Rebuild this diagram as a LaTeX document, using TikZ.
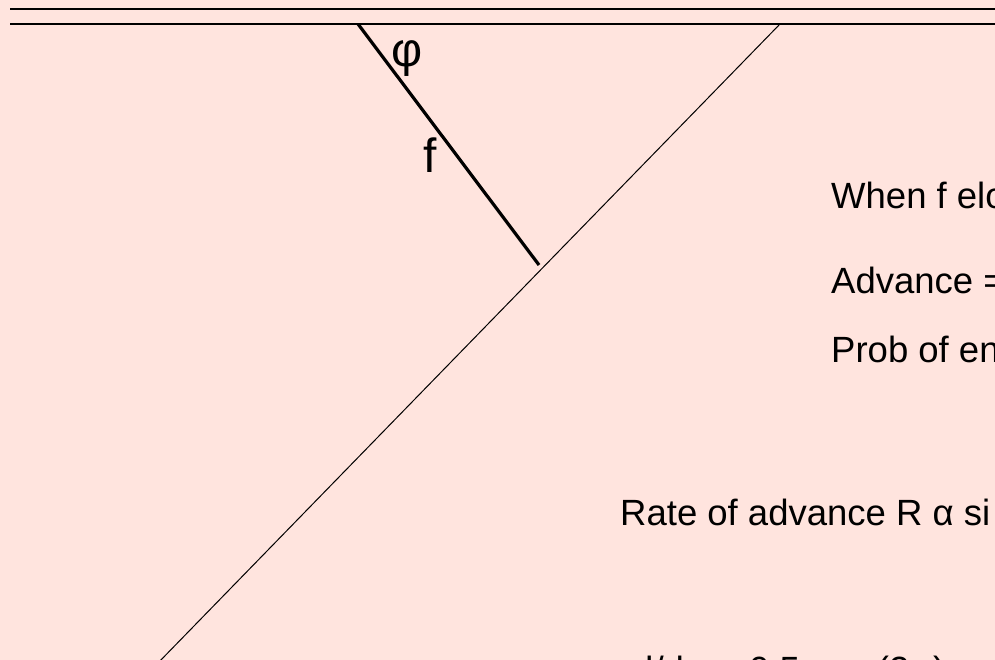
\documentclass[tikz,border=0pt]{standalone}
\usepackage{fontspec}
\setmainfont{Liberation Sans}
\definecolor{bgpink}{HTML}{FFE4DE}
\begin{document}
\begin{tikzpicture}[x=1pt,y=-1pt,
  txt/.style={inner sep=0pt, anchor=base west, font=\fontsize{36.5}{44}\selectfont},
  lbl/.style={inner sep=0pt, anchor=base, font=\fontsize{48}{56}\selectfont},
  wall/.style={line width=2pt},
  fil/.style={line width=3.2pt},
  diag/.style={line width=1pt}]
\useasboundingbox (0,0) rectangle (995,660);
\fill[bgpink] (0,0) rectangle (995,660);
\clip (0,0) rectangle (995,660);
% membrane lines
\coordinate (w1a) at (10,9);  \coordinate (w1b) at (1000,9);
\coordinate (w2a) at (10,24); \coordinate (w2b) at (1000,24);
\draw[wall] (w1a) -- (w1b);
\draw[wall] (w2a) -- (w2b);
% filament f
\coordinate (fa) at (358,24); \coordinate (fb) at (539,265);
\draw[fil] (fa) -- (fb);
% long diagonal
\coordinate (da) at (780,24); \coordinate (db) at (157,664);
\draw[diag] (da) -- (db);
% labels
\node[lbl] (phi) at (407,67) {φ};
\node[lbl] (flab) at (430,173) {f};
% texts
\node[txt] (t1) at (831,209) {When f elo};
\node[txt] (t2) at (831,293) {Advance =};
\node[txt] (t3) at (831,362) {Prob of en};
\node[txt] (t4) at (620,525) {Rate of advance R α si};
\node[txt] (t5) at (633,682) {d/dφ = 0.5 cos (2φ)};
\end{tikzpicture}
\end{document}
